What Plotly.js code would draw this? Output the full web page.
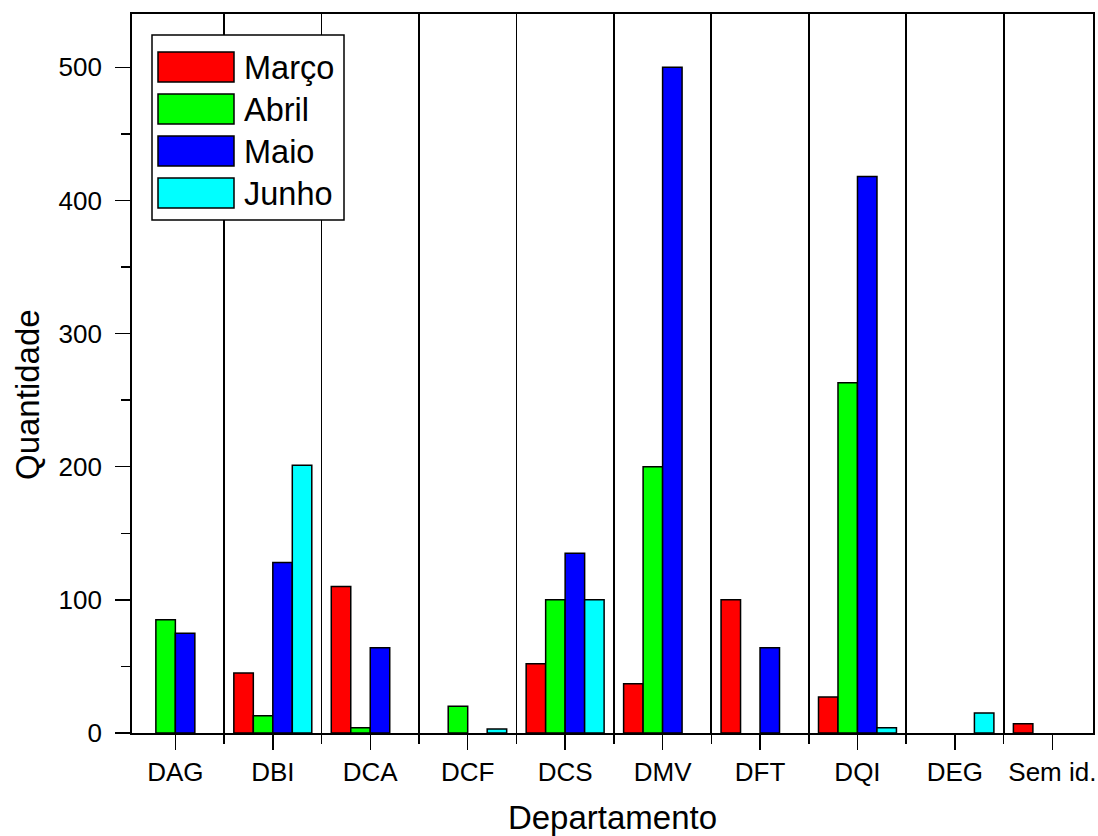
<!DOCTYPE html>
<html>
<head>
<meta charset="utf-8">
<script src="https://cdn.plot.ly/plotly-3.0.1.min.js"></script>
<style>
  html, body { margin: 0; padding: 0; background: #ffffff; }
  #chart { width: 1098px; height: 836px; }
</style>
</head>
<body>
<div id="chart"></div>
<script>
// ---- Data ----
const categories = ['DAG', 'DBI', 'DCA', 'DCF', 'DCS', 'DMV', 'DFT', 'DQI', 'DEG', 'Sem id.'];
const seriesNames = ['Março', 'Abril', 'Maio', 'Junho'];
const marco = [null, 45, 110, null, 52, 37, 100, 27, null, 7];
const abril = [85, 13, 4, 20, 100, 200, null, 263, null, null];
const maio  = [75, 128, 64, null, 135, 500, 64, 418, null, null];
const junho = [null, 201, null, 3, 100, null, null, 4, 15, null];
const yTickVals = [0, 100, 200, 300, 400, 500];

// ---- Styling ----
const colors = ['#FF0000', '#00FF00', '#0000FF', '#00FFFF'];
const FONT = '"Liberation Sans", Arial, sans-serif';
const W = 1098, H = 836;
const M = { l: 132, r: 5, t: 14, b: 103 };
const plotW = W - M.l - M.r, plotH = H - M.t - M.b;
const px2x = px => (px - M.l) / plotW;
const py2y = py => (H - M.b - py) / plotH;

const xPos = categories.map((c, i) => i + 1);
const boundaries = categories.slice(0, -1).map((c, i) => i + 1.5);

const allSeries = [marco, abril, maio, junho];
const traces = allSeries.map((vals, k) => ({
  type: 'bar',
  name: seriesNames[k],
  x: xPos,
  y: vals,
  marker: { color: colors[k], line: { color: '#000000', width: 1.5 } },
  showlegend: false,
  hoverinfo: 'x+y+name'
}));

// ---- Manual legend (large swatches as in reference) ----
const shapes = [];
const annotations = [];
shapes.push({
  type: 'rect', xref: 'paper', yref: 'paper', layer: 'above',
  x0: px2x(152), x1: px2x(344), y0: py2y(35), y1: py2y(220),
  fillcolor: '#ffffff', line: { color: '#000000', width: 1.5 }
});
const rowTop = [52, 94, 136, 178];
seriesNames.forEach((name, k) => {
  const top = rowTop[k], bot = top + 30;
  shapes.push({
    type: 'rect', xref: 'paper', yref: 'paper', layer: 'above',
    x0: px2x(158), x1: px2x(234), y0: py2y(bot), y1: py2y(top),
    fillcolor: colors[k], line: { color: '#000000', width: 1.5 }
  });
  annotations.push({
    xref: 'paper', yref: 'paper', x: px2x(242), y: py2y((top + bot) / 2 + 1),
    xanchor: 'left', yanchor: 'middle', showarrow: false,
    text: name, font: { family: FONT, size: 32.5, color: '#000000' }
  });
});

// y-axis title as annotation (positioned like reference)
annotations.push({
  xref: 'paper', yref: 'paper', x: px2x(28), y: py2y(395),
  xanchor: 'center', yanchor: 'middle', showarrow: false, textangle: -90,
  text: 'Quantidade', font: { family: FONT, size: 33, color: '#000000' }
});

const layout = {
  width: W, height: H,
  margin: M,
  paper_bgcolor: '#ffffff', plot_bgcolor: '#ffffff',
  barmode: 'group', bargap: 0.2, bargroupgap: 0,
  showlegend: false,
  font: { family: FONT, color: '#000000' },
  xaxis: {
    range: [0.555, 10.417],
    tickmode: 'array', tickvals: xPos, ticktext: categories,
    ticks: 'outside', ticklen: 15, tickwidth: 1.5, tickcolor: '#000000',
    tickfont: { family: FONT, size: 26, color: '#000000' },
    showgrid: false, zeroline: false,
    showline: true, linecolor: '#000000', linewidth: 1.8, mirror: true,
    minor: {
      tickmode: 'array', tickvals: boundaries,
      ticks: 'outside', ticklen: 9, tickwidth: 1.5, tickcolor: '#000000',
      showgrid: true, gridcolor: '#000000', gridwidth: 1.8
    },
    title: { text: 'Departamento', font: { family: FONT, size: 33, color: '#000000' }, standoff: 22 }
  },
  yaxis: {
    range: [0, 540],
    tickmode: 'array', tickvals: yTickVals,
    ticks: 'outside', ticklen: 15, tickwidth: 1.5, tickcolor: '#000000',
    tickfont: { family: FONT, size: 26, color: '#000000' },
    ticklabelstandoff: 8,
    showgrid: false, zeroline: false,
    showline: true, linecolor: '#000000', linewidth: 1.8, mirror: true,
    minor: {
      dtick: 50, tick0: 0,
      ticks: 'outside', ticklen: 9, tickwidth: 1.5, tickcolor: '#000000',
      showgrid: false
    }
  },
  shapes: shapes,
  annotations: annotations
};

Plotly.newPlot('chart', traces, layout, { displayModeBar: false, staticPlot: true });
</script>
</body>
</html>
